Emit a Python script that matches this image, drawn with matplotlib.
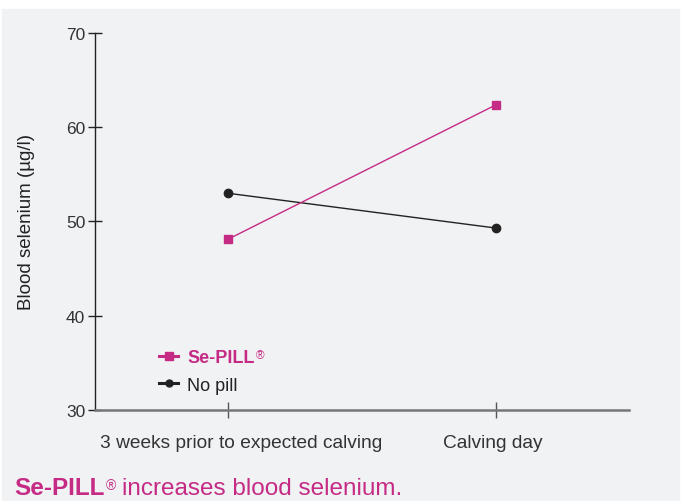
import matplotlib.pyplot as plt
import matplotlib.patches as mpatches
import matplotlib.transforms as mtransforms
from matplotlib.lines import Line2D

# data
categories = ['3 weeks prior to expected calving', 'Calving day']
x_pos = [0, 1]
se_pill = [48.1, 62.4]
no_pill = [53.0, 49.3]
y_ticks = [30, 40, 50, 60, 70]

pink = '#c52b85'
dark = '#222222'
bg = '#f1f2f4'

plt.rcParams['font.family'] = ['Liberation Sans', 'DejaVu Sans']

fig = plt.figure(figsize=(6.81, 5.02), dpi=100)
fig.patches.append(mpatches.Rectangle((2/681, 0), 677/681, 1 - 10/502,
                                      transform=fig.transFigure, color=bg, zorder=-10))

ax = fig.add_axes([95/681, 1 - 411/502, (629 - 95)/681, (411 - 34)/502])
ax.set_facecolor('none')

ax.plot(x_pos, no_pill, color=dark, lw=1, marker='o', ms=6, zorder=3)
ax.plot(x_pos, se_pill, color=pink, lw=1, marker='s', ms=6, zorder=3)

ax.set_xlim(-0.494, 1.494)
ax.set_ylim(30, 70)
ax.set_yticks(y_ticks)
ax.set_xticks(x_pos)
ax.set_xticklabels(categories)

for s in ['top', 'right']:
    ax.spines[s].set_visible(False)
ax.spines['left'].set_color(dark)
ax.spines['left'].set_linewidth(1)
ax.spines['bottom'].set_color('#777777')
ax.spines['bottom'].set_linewidth(1.8)

ax.tick_params(axis='y', direction='inout', length=10, width=1, color=dark,
               labelsize=12.5, labelcolor='#333333', pad=2)
ax.tick_params(axis='x', direction='inout', length=12, width=1, color='#555555',
               labelsize=13.8, labelcolor='#333333', pad=11)

# the labels are not quite centred under their ticks in the reference
shifts = [13, -3]
for lab, dx in zip(ax.get_xticklabels(), shifts):
    lab.set_transform(lab.get_transform() +
                      mtransforms.ScaledTranslation(dx / 100, 0, fig.dpi_scale_trans))

ax.set_ylabel('Blood selenium (µg/l)', fontsize=13.5, color=dark, labelpad=22)

# legend
handles = [Line2D([], [], color=pink, lw=2.2, marker='s', ms=6),
           Line2D([], [], color=dark, lw=2.2, marker='o', ms=5)]
leg = ax.legend(handles, ['Se-PILL', 'No pill'], loc='lower left',
                bbox_to_anchor=(0.09, 0.0), frameon=False, fontsize=13,
                handlelength=1.05, handletextpad=0.5, labelspacing=0.6)
texts = leg.get_texts()
texts[0].set_color(pink)
texts[0].set_fontweight('bold')
texts[1].set_color(dark)
ax.annotate('®', xy=(1, 1), xycoords=texts[0], xytext=(1, 0), textcoords='offset points',
            color=pink, fontsize=8.5, va='top', annotation_clip=False, zorder=10)

# caption, pieces chained one after the other
t1 = fig.text(14/681, 1 - 495/502, 'Se-PILL', color=pink, fontsize=17.5,
              fontweight='bold', va='baseline')
plt.annotate('®', xy=(1, 0), xycoords=t1, xytext=(1, 7.5), textcoords='offset points',
             color=pink, fontsize=10, va='baseline', annotation_clip=False)
plt.annotate('increases blood selenium.', xy=(1, 0), xycoords=t1,
             xytext=(13, 0), textcoords='offset points', color=pink,
             fontsize=17.5, va='bottom', annotation_clip=False)

fig.savefig('out.png', dpi=100, facecolor='white')
